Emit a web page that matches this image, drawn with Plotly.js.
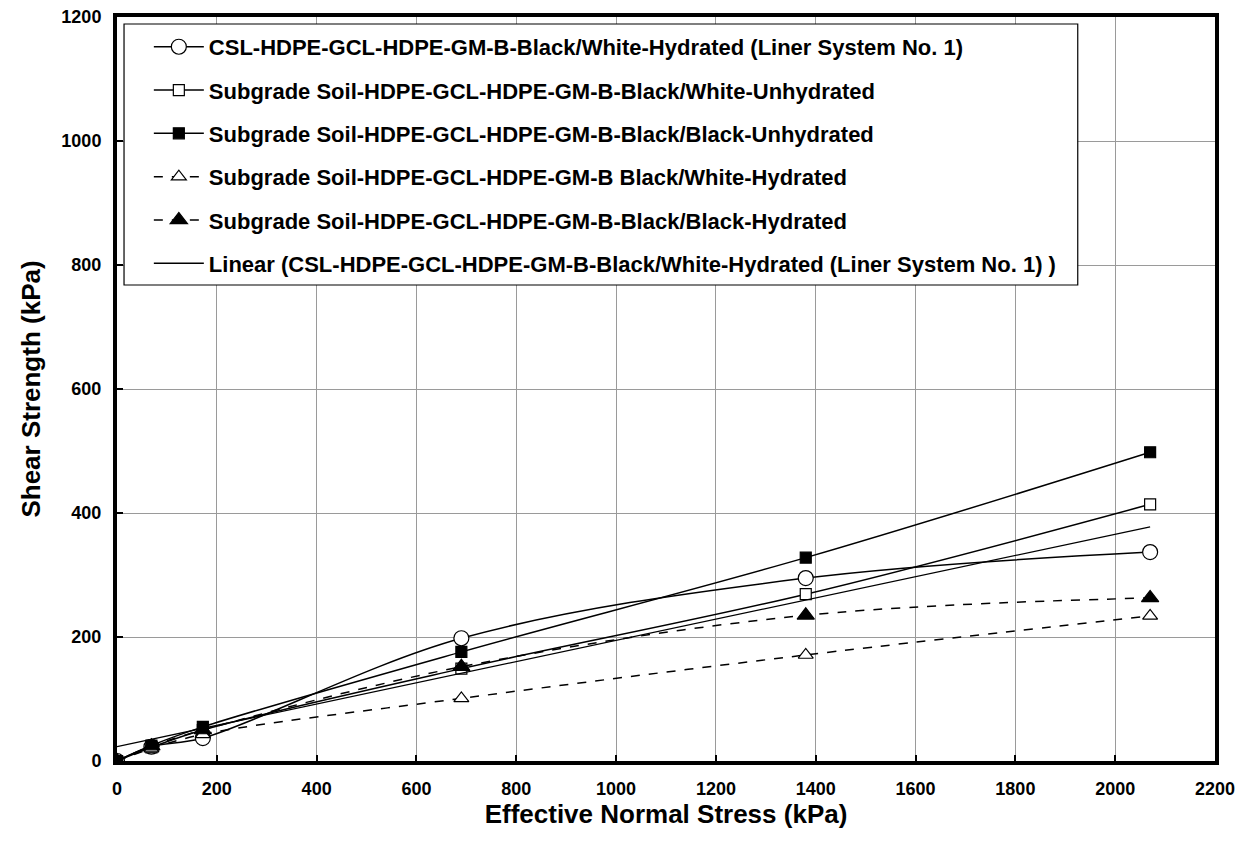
<!DOCTYPE html>
<html>
<head>
<meta charset="utf-8">
<script src="https://cdn.plot.ly/plotly-3.0.1.min.js"></script>
<style>
  html, body { margin: 0; padding: 0; background: #fff; }
  #chart { width: 1250px; height: 855px; }
</style>
</head>
<body>
<div id="chart"></div>
<script>
// Effective normal stress (kPa) used in every test series
const normalStress = [0, 69, 172, 690, 1380, 2070];

// Peak shear strength (kPa) per interface configuration
const cslBlackWhiteHydrated   = [0, 23, 37, 198, 295, 337];
const subBlackWhiteUnhydrated = [0, 22, 50, 149, 269, 414];
const subBlackBlackUnhydrated = [0, 25, 55, 176, 328, 498];
const subBlackWhiteHydrated   = [0, 20, 43, 101, 171, 234];
const subBlackBlackHydrated   = [0, 24, 50, 152, 235, 263];

const seriesNames = [
  'CSL-HDPE-GCL-HDPE-GM-B-Black/White-Hydrated (Liner System No. 1)',
  'Subgrade Soil-HDPE-GCL-HDPE-GM-B-Black/White-Unhydrated',
  'Subgrade Soil-HDPE-GCL-HDPE-GM-B-Black/Black-Unhydrated',
  'Subgrade Soil-HDPE-GCL-HDPE-GM-B Black/White-Hydrated',
  'Subgrade Soil-HDPE-GCL-HDPE-GM-B-Black/Black-Hydrated',
  'Linear (CSL-HDPE-GCL-HDPE-GM-B-Black/White-Hydrated (Liner System No. 1) )'
];

// Least-squares trend line through the liner system no. 1 results
function linearFit(xs, ys) {
  const n = xs.length;
  const mx = xs.reduce((a, b) => a + b, 0) / n;
  const my = ys.reduce((a, b) => a + b, 0) / n;
  let sxy = 0, sxx = 0;
  for (let i = 0; i < n; i++) {
    sxy += (xs[i] - mx) * (ys[i] - my);
    sxx += (xs[i] - mx) * (xs[i] - mx);
  }
  const slope = sxy / sxx;
  return { slope, intercept: my - slope * mx };
}
const fit = linearFit(normalStress, cslBlackWhiteHydrated);
const trendX = [normalStress[0], normalStress[normalStress.length - 1]];
const trendY = trendX.map(x => fit.intercept + fit.slope * x);

const FONT = 'Liberation Sans, Arial, sans-serif';

// hollow markers are white-filled so the connecting lines stop at their outline
function series(name, y, symbol, hollow, size, dash, group) {
  return {
    type: 'scatter', mode: 'lines+markers', name,
    x: normalStress, y,
    legendgroup: group,
    line: { shape: 'spline', smoothing: 1, color: '#000', width: 1.5, dash },
    marker: { symbol, size, color: hollow ? '#fff' : '#000',
              line: { color: '#000', width: 1.2 } }
  };
}

const traces = [
  series(seriesNames[0], cslBlackWhiteHydrated, 'circle', true, 15, 'solid', 'g1'),
  series(seriesNames[1], subBlackWhiteUnhydrated, 'square', true, 11, 'solid', 'g2'),
  series(seriesNames[2], subBlackBlackUnhydrated, 'square', false, 11, 'solid', 'g3'),
  series(seriesNames[3], subBlackWhiteHydrated, 'triangle-up', true, 13, 'dash', 'g4'),
  series(seriesNames[4], subBlackBlackHydrated, 'triangle-up', false, 15, 'dash', 'g5'),
  {
    type: 'scatter', mode: 'lines', name: seriesNames[5],
    x: trendX, y: trendY, legendgroup: 'g6',
    line: { color: '#000', width: 1.3 }
  }
];

const tickFont = { family: FONT, size: 18, color: '#000', weight: 'bold' };
const titleFont = { family: FONT, size: 26, color: '#000', weight: 'bold' };

const layout = {
  width: 1250, height: 855,
  paper_bgcolor: '#fff', plot_bgcolor: '#fff',
  margin: { l: 117, r: 35, t: 17, b: 94 },
  showlegend: true,
  legend: {
    x: 0.029, y: 0.988, xanchor: 'left', yanchor: 'top',
    bgcolor: 'rgba(0,0,0,0)', borderwidth: 0,
    traceorder: 'grouped', tracegroupgap: 11.7,
    font: { family: FONT, size: 22, color: '#000', weight: 'bold' },
    itemwidth: 50
  },
  // white legend frame that hides the gridlines behind the entries
  shapes: [{
    type: 'rect', xref: 'paper', yref: 'paper', layer: 'above',
    x0: 0.0064, x1: 0.875, y0: 0.6398, y1: 0.9906,
    fillcolor: '#fff', line: { color: '#000', width: 1.2 }
  }],
  xaxis: {
    range: [0, 2200], dtick: 200, tick0: 0,
    showgrid: true, gridcolor: '#9a9a9a', gridwidth: 1,
    zeroline: false,
    showline: true, linecolor: '#000', linewidth: 4, mirror: true,
    ticks: 'inside', ticklen: 6, tickwidth: 2, tickcolor: '#000',
    ticklabelstandoff: 8,
    tickfont: tickFont,
    title: { text: 'Effective Normal Stress (kPa)', standoff: 4, font: titleFont }
  },
  yaxis: {
    range: [0, 1200], dtick: 200, tick0: 0,
    showgrid: true, gridcolor: '#9a9a9a', gridwidth: 1,
    zeroline: false,
    showline: true, linecolor: '#000', linewidth: 4, mirror: true,
    ticks: 'inside', ticklen: 6, tickwidth: 2, tickcolor: '#000',
    ticklabelstandoff: 8,
    tickfont: tickFont,
    title: { text: 'Shear Strength (kPa)', standoff: 14, font: titleFont }
  }
};

Plotly.newPlot('chart', traces, layout, { displayModeBar: false, staticPlot: true });
</script>
</body>
</html>
